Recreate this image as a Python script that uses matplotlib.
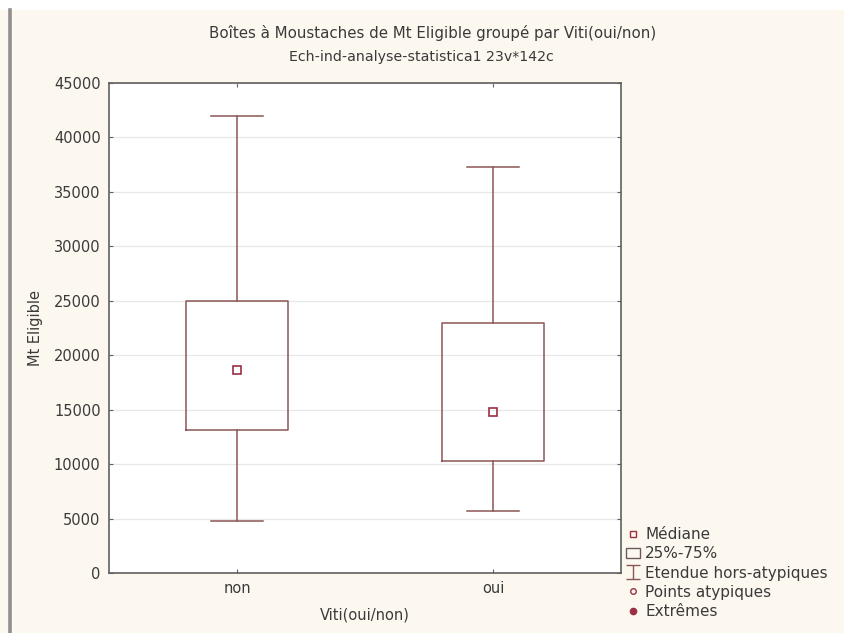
import matplotlib
matplotlib.use('Agg')
import matplotlib.pyplot as plt
from matplotlib.lines import Line2D
from matplotlib.patches import Patch, Rectangle
from matplotlib.path import Path

# data
groups = ['non', 'oui']
whisk_lo = [4800, 5700]
q1 = [13100, 10300]
medians = [18600, 14800]
q3 = [25000, 23000]
whisk_hi = [42000, 37300]
yticks = [0, 5000, 10000, 15000, 20000, 25000, 30000, 35000, 40000, 45000]

box_col = '#8a5656'
med_col = '#9c2f45'
txt_col = '#3a3a3a'
bg = '#fcf8f0'

plt.rcParams['font.family'] = ['DejaVu Sans']

fig = plt.figure(figsize=(8.44, 6.33), dpi=100)
fig.patch.set_facecolor(bg)
fig.add_artist(Rectangle((0, 1 - 10 / 633), 1, 10 / 633, transform=fig.transFigure,
                         facecolor='white', edgecolor='none'))
fig.add_artist(Line2D([10 / 844, 10 / 844], [0, 1 - 10 / 633], transform=fig.transFigure,
                      color='#8f8f8f', lw=2.6))

ax = fig.add_axes([109 / 844, 60 / 633, 512 / 844, 490 / 633])
ax.set_facecolor('white')

stats = []
for i in range(len(groups)):
    stats.append({'label': groups[i], 'whislo': whisk_lo[i], 'q1': q1[i],
                  'med': medians[i], 'q3': q3[i], 'whishi': whisk_hi[i], 'fliers': []})

lp = dict(color=box_col, lw=1.1)
ax.bxp(stats, positions=[1, 2], widths=0.4, capwidths=0.2, showfliers=False,
       boxprops=lp, whiskerprops=lp, capprops=lp,
       medianprops=dict(linestyle='none'))
ax.plot([1, 2], medians, linestyle='none', marker='s', ms=5.5, mfc='none',
        mec=med_col, mew=1.2)

ax.set_xlim(0.5, 2.5)
ax.set_ylim(0, 45000)
ax.set_yticks(yticks)
ax.set_xticks([1, 2])
ax.set_xticklabels(groups)
ax.yaxis.grid(True, color='#e8e8e8', lw=0.9)
ax.set_axisbelow(True)
ax.tick_params(direction='in', length=3, width=0.8, color='#606060',
               top=True, right=True, labelsize=10.5, labelcolor=txt_col, pad=6)
for s in ax.spines.values():
    s.set_color('#606060')
    s.set_linewidth(1.2)

ax.set_xlabel('Viti(oui/non)', fontsize=10.5, color=txt_col, labelpad=8)
ax.set_ylabel('Mt Eligible', fontsize=10.5, color=txt_col, labelpad=8)

fig.text(433 / 844, 1 - 33 / 633, 'Boîtes à Moustaches de Mt Eligible groupé par Viti(oui/non)',
         ha='center', va='center', fontsize=10.8, color=txt_col)
fig.text(421 / 844, 1 - 57 / 633, 'Ech-ind-analyse-statistica1 23v*142c',
         ha='center', va='center', fontsize=10.2, color=txt_col)

# whisker symbol for the legend
whisk_path = Path([(-1, -1), (1, -1), (0, -1), (0, 1), (-1, 1), (1, 1)],
                  [Path.MOVETO, Path.LINETO, Path.MOVETO, Path.LINETO, Path.MOVETO, Path.LINETO])

h_med = Line2D([], [], linestyle='none', marker='s', ms=5, mfc='none', mec=med_col, mew=1)
h_box = Patch(facecolor='none', edgecolor='#6a5a5a', lw=1)
h_wh = Line2D([], [], linestyle='none', marker=whisk_path, ms=10, mfc='none',
              mec=box_col, mew=1)
h_out = Line2D([], [], linestyle='none', marker='o', ms=4, mfc='none', mec=med_col, mew=1)
h_ext = Line2D([], [], linestyle='none', marker='o', ms=4.5, mfc=med_col, mec=med_col)
fig.legend([h_med, h_box, h_wh, h_out, h_ext],
           ['Médiane', '25%-75%', 'Etendue hors-atypiques', 'Points atypiques', 'Extrêmes'],
           loc='upper left', bbox_to_anchor=(626 / 844, 1 - 527 / 633),
           frameon=False, fontsize=11, handlelength=0.9, handletextpad=0.35,
           labelspacing=0.28, borderaxespad=0, borderpad=0, labelcolor=txt_col)

fig.savefig('out.png', dpi=100, facecolor=fig.get_facecolor())
